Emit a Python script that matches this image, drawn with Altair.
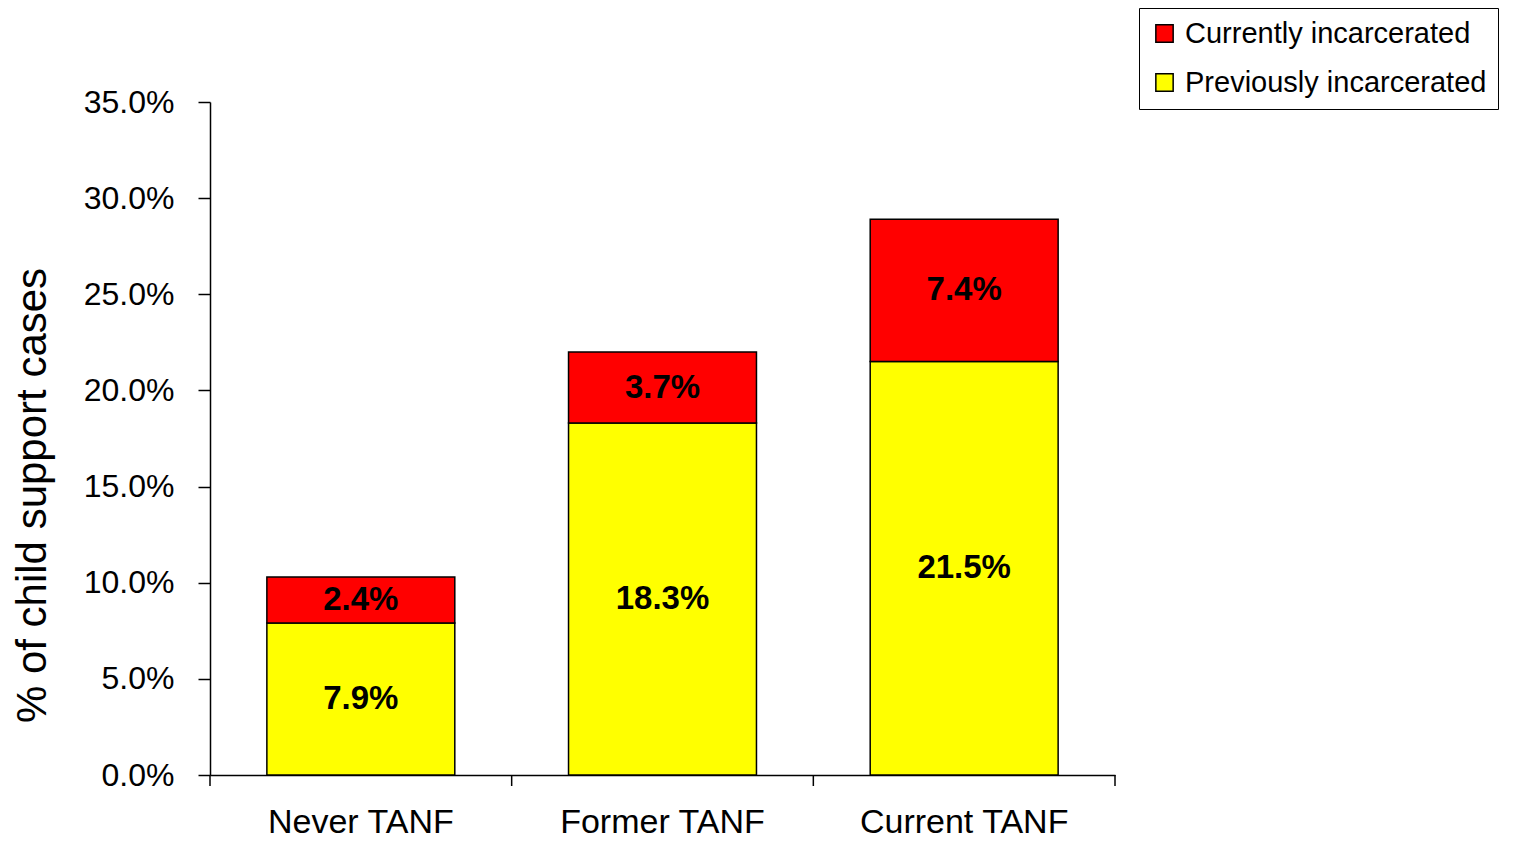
import altair as alt
import pandas as pd

categories = ["Never TANF", "Former TANF", "Current TANF"]
previously = [7.9, 18.3, 21.5]
currently = [2.4, 3.7, 7.4]
series = ["Currently incarcerated", "Previously incarcerated"]
colors = ["#ff0000", "#ffff00"]
y_ticks = [0, 0.05, 0.1, 0.15, 0.2, 0.25, 0.3, 0.35]
x_boundaries = [0, 1, 2, 3]

rows = []
for c, p, cur in zip(categories, previously, currently):
    rows.append({"cat": c, "series": series[1], "val": p / 100, "ord": 0, "label": f"{p:.1f}%"})
    rows.append({"cat": c, "series": series[0], "val": cur / 100, "ord": 1, "label": f"{cur:.1f}%"})
df = pd.DataFrame(rows)
tick_df = pd.DataFrame({"b": x_boundaries})

FONT = "Liberation Sans"
W, H = 905, 673

x_scale = alt.Scale(paddingInner=0.377, paddingOuter=0.1885)
x_enc = alt.X("cat:N", sort=categories, scale=x_scale,
              axis=alt.Axis(title=None, labelAngle=0, labelFontSize=34, labelFont=FONT,
                            labelColor="black", labelPadding=30, labelLimit=500,
                            ticks=False,
                            domainColor="black", domainWidth=1.5))

base = alt.Chart(df)

bars = base.mark_bar(stroke="black", strokeWidth=1.5).encode(
    x=x_enc,
    y=alt.Y("val:Q", stack="zero",
            scale=alt.Scale(domain=[0, 0.35]),
            axis=alt.Axis(title="% of child support cases", format=".1%",
                          values=y_ticks,
                          grid=False, labelFontSize=32, labelFont=FONT, labelColor="black",
                          labelPadding=24, tickSize=12, tickColor="black", tickWidth=1.5,
                          domainColor="black", domainWidth=1.5,
                          titleFontSize=42, titleFont=FONT, titleFontWeight="normal",
                          titleColor="black", titleX=-156, titleY=393)),
    color=alt.Color("series:N", scale=alt.Scale(domain=series, range=colors),
                    legend=alt.Legend(title=None, orient="none", legendX=929, legendY=-94,
                                      labelFontSize=29, labelFont=FONT, labelColor="black",
                                      symbolType="square", symbolSize=300,
                                      symbolStrokeColor="black", symbolStrokeWidth=1.5,
                                      strokeColor="black", padding=11, rowPadding=19,
                                      labelOffset=6, fillColor="white", labelLimit=500)),
    order=alt.Order("ord:Q"),
)

labels = base.transform_stack(
    stack="val", groupby=["cat"], as_=["v0", "v1"], sort=[alt.SortField("ord")]
).transform_calculate(mid="(datum.v0 + datum.v1) / 2").mark_text(
    fontSize=33, fontWeight="bold", font=FONT, color="black", baseline="middle"
).encode(
    x=alt.X("cat:N", sort=categories, scale=x_scale,
            axis=alt.Axis(title=None, labels=False, ticks=False, domain=False,
                          orient="bottom")),
    y=alt.Y("mid:Q", scale=alt.Scale(domain=[0, 0.35])),
    text="label:N",
)

ticks = alt.Chart(tick_df).mark_rule(color="black", strokeWidth=1.5).encode(
    x=alt.X("b:Q", scale=alt.Scale(domain=[0, 3]), axis=None),
    y=alt.value(H),
    y2=alt.value(H + 11),
)

chart = alt.layer(bars, labels, ticks).resolve_scale(x="independent").properties(
    width=W, height=H,
    autosize=alt.AutoSizeParams(type="none"),
    padding={"left": 202, "top": 94, "right": 390, "bottom": 65},
).configure_view(stroke=None)

chart.save("out.html", embed_options={"renderer": "svg", "actions": False})
